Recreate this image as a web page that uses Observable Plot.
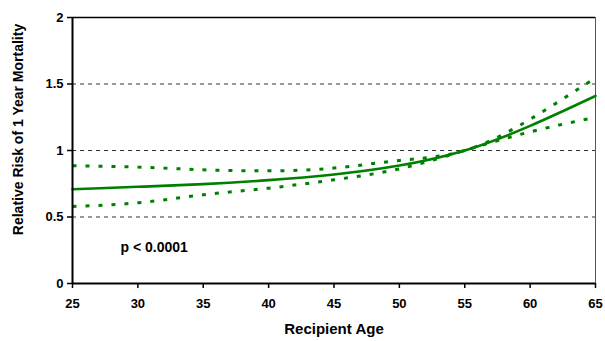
<!DOCTYPE html>
<html><head><meta charset="utf-8">
<script src="https://cdn.jsdelivr.net/npm/d3@7"></script>
<script src="https://cdn.jsdelivr.net/npm/@observablehq/plot@0.6"></script>
<style>body{margin:0;background:#fff} svg{font-family:"Liberation Sans",Arial,sans-serif;}</style>
</head><body><div id="chart"></div>
<script>
const ages = [25, 30, 35, 40, 45, 50, 55, 60, 65];
const relativeRisk = [0.709, 0.727, 0.747, 0.777, 0.82, 0.887, 1.0, 1.185, 1.41];
const upperCI = [0.885, 0.875, 0.855, 0.847, 0.868, 0.925, 1.0, 1.235, 1.547];
const lowerCI = [0.579, 0.607, 0.667, 0.717, 0.78, 0.862, 1.0, 1.14, 1.25];
const xTicks = [25, 30, 35, 40, 45, 50, 55, 60, 65];
const yTicks = [0, 0.5, 1, 1.5, 2];
const gridValues = [0.5, 1, 1.5];
const xLabel = "Recipient Age";
const yLabel = "Relative Risk of 1 Year Mortality";
const note = "p < 0.0001";

const mainData = ages.map((a, i) => ({age: a, v: relativeRisk[i]}));
const ciData = ages.flatMap((a, i) => [
  {age: a, v: upperCI[i], band: "upper"},
  {age: a, v: lowerCI[i], band: "lower"}
]);
const green = "#008000";

const chart = Plot.plot({
  width: 605,
  height: 341,
  marginLeft: 72,
  marginRight: 10,
  marginTop: 17,
  marginBottom: 58,
  x: {domain: [25, 65]},
  y: {domain: [0, 2]},
  style: {fontFamily: "'Liberation Sans', Arial, sans-serif", background: "#fff", color: "#000"},
  marks: [
    Plot.ruleY(gridValues, {stroke: "#333", strokeWidth: 1, strokeDasharray: "4,4"}),
    Plot.ruleY([2], {stroke: "#000", strokeWidth: 1.5}),
    Plot.ruleX([65], {stroke: "#555", strokeWidth: 1}),
    Plot.lineY(ciData, {x: "age", y: "v", z: "band", stroke: green, strokeWidth: 3, strokeDasharray: "4,9", strokeLinecap: "butt", curve: "natural"}),
    Plot.lineY(mainData, {x: "age", y: "v", stroke: green, strokeWidth: 2.6, curve: "natural"}),
    Plot.ruleX([25], {stroke: "#000", strokeWidth: 2}),
    Plot.ruleY([0], {stroke: "#000", strokeWidth: 2}),
    Plot.axisX({ticks: xTicks, tickFormat: d => String(d), tickSize: 5, tickPadding: 10, label: null, fontWeight: "bold", fontSize: 13, stroke: "#000", strokeWidth: 1.5}),
    Plot.axisY({ticks: yTicks, tickFormat: d => String(d), tickSize: 5, tickPadding: 4, label: null, fontWeight: "bold", fontSize: 13, stroke: "#000", strokeWidth: 1.5}),
    Plot.text([xLabel], {frameAnchor: "bottom", dy: 50, fontWeight: "bold", fontSize: 15, fill: "#000"}),
    Plot.text([yLabel], {frameAnchor: "left", dx: -54, dy: -21, rotate: -90, textAnchor: "middle", fontWeight: "bold", fontSize: 14, fill: "#000"}),
    Plot.text([note], {frameAnchor: "bottom-left", dx: 48, dy: -32, textAnchor: "start", fontWeight: "bold", fontSize: 14, fill: "#000"})
  ]
});
document.getElementById("chart").append(chart);
</script>
</body></html>
